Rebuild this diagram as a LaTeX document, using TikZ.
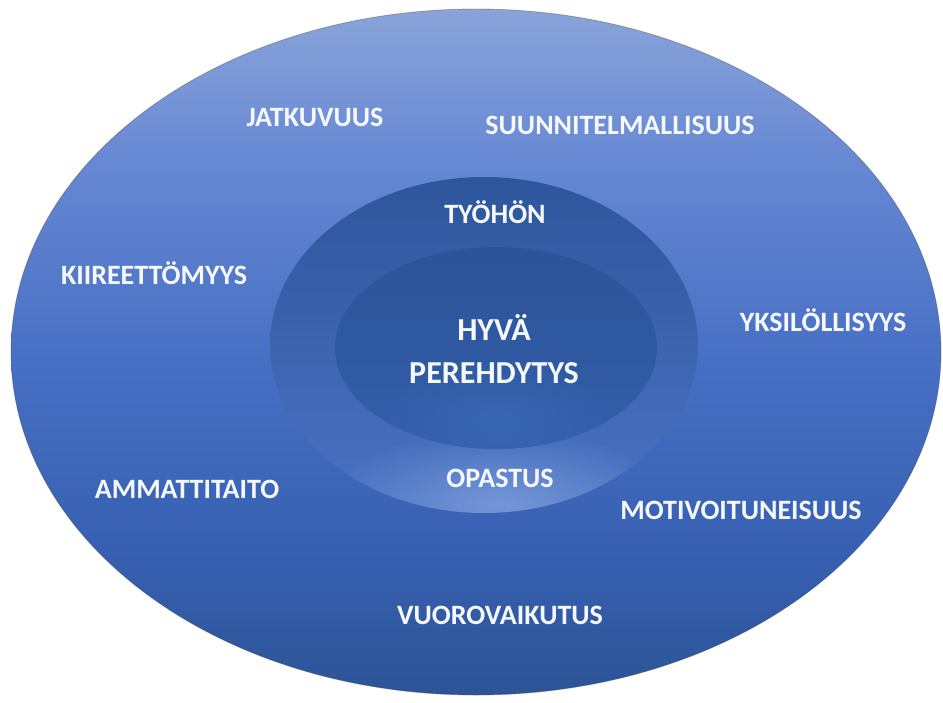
\documentclass[tikz,border=0pt]{standalone}
\usepackage{fontspec}
\setmainfont{Carlito}
\usetikzlibrary{fadings}

\definecolor{ringTop}{RGB}{46,86,156}
\definecolor{ringBot}{RGB}{74,114,194}
\definecolor{ringGlow}{RGB}{128,160,222}
\definecolor{coreTop}{RGB}{44,84,152}
\definecolor{coreBot}{RGB}{50,94,170}
\definecolor{coreGlow}{RGB}{66,112,192}
\definecolor{labelWhite}{RGB}{246,248,255}

% vertical fill of the outer ellipse, light at the top, deep blue below
\pgfdeclareverticalshading{outerfill}{100bp}{
  rgb(0bp)=(0.173,0.329,0.588);
  rgb(25bp)=(0.173,0.329,0.588);
  rgb(35.6bp)=(0.216,0.376,0.698);
  rgb(50bp)=(0.282,0.439,0.769);
  rgb(64.7bp)=(0.412,0.541,0.831);
  rgb(75bp)=(0.541,0.643,0.855);
  rgb(100bp)=(0.541,0.643,0.855)}

\tikzfading[name=softglow, inner color=transparent!0, outer color=transparent!100]

\tikzset{
  lbl/.style={text=labelWhite, font=\bfseries\fontsize{28}{32}\selectfont, inner sep=0pt},
  corelbl/.style={text=labelWhite, font=\bfseries\fontsize{32}{43}\selectfont, align=center, inner sep=0pt},
}

\begin{document}
\begin{tikzpicture}[x=1pt,y=-1pt]
  \useasboundingbox (0,0) rectangle (943,702);

  % outer ellipse
  \shade[shading=outerfill]
    (476,352) ellipse [x radius=465pt, y radius=343pt];
  \draw[black!70, opacity=0.4, line width=0.8pt]
    (476,352) ellipse [x radius=465pt, y radius=343pt];

  % middle ring
  \shade[top color=ringTop, bottom color=ringBot]
    (484,345) ellipse [x radius=214pt, y radius=168pt];
  \begin{scope}
    \clip (484,345) ellipse [x radius=214pt, y radius=168pt];
    \fill[ringGlow, path fading=softglow, opacity=0.8]
      (500,505) ellipse [x radius=180pt, y radius=75pt];
  \end{scope}

  % inner core
  \shade[top color=coreTop, bottom color=coreBot]
    (496,348) ellipse [x radius=161pt, y radius=101pt];
  \begin{scope}
    \clip (496,348) ellipse [x radius=161pt, y radius=101pt];
    \fill[coreGlow, path fading=softglow, opacity=0.5]
      (496,420) ellipse [x radius=120pt, y radius=60pt];
  \end{scope}

  % labels
  \node[corelbl] (core) at (494,349) {HYVÄ\\PEREHDYTYS};
  \node[lbl] (tyohon)  at (495,212) {TYÖHÖN};
  \node[lbl] (opastus) at (500,478) {OPASTUS};

  \node[lbl] (jatk)  at (315,117) {JATKUVUUS};
  \node[lbl] (suun)  at (620,125) {SUUNNITELMALLISUUS};
  \node[lbl] (kiir)  at (154,273) {KIIREETTÖMYYS};
  \node[lbl] (yksi)  at (823,320) {YKSILÖLLISYYS};
  \node[lbl] (amma)  at (187,489) {AMMATTITAITO};
  \node[lbl] (moti)  at (741,510) {MOTIVOITUNEISUUS};
  \node[lbl] (vuor)  at (500,615) {VUOROVAIKUTUS};
\end{tikzpicture}
\end{document}
